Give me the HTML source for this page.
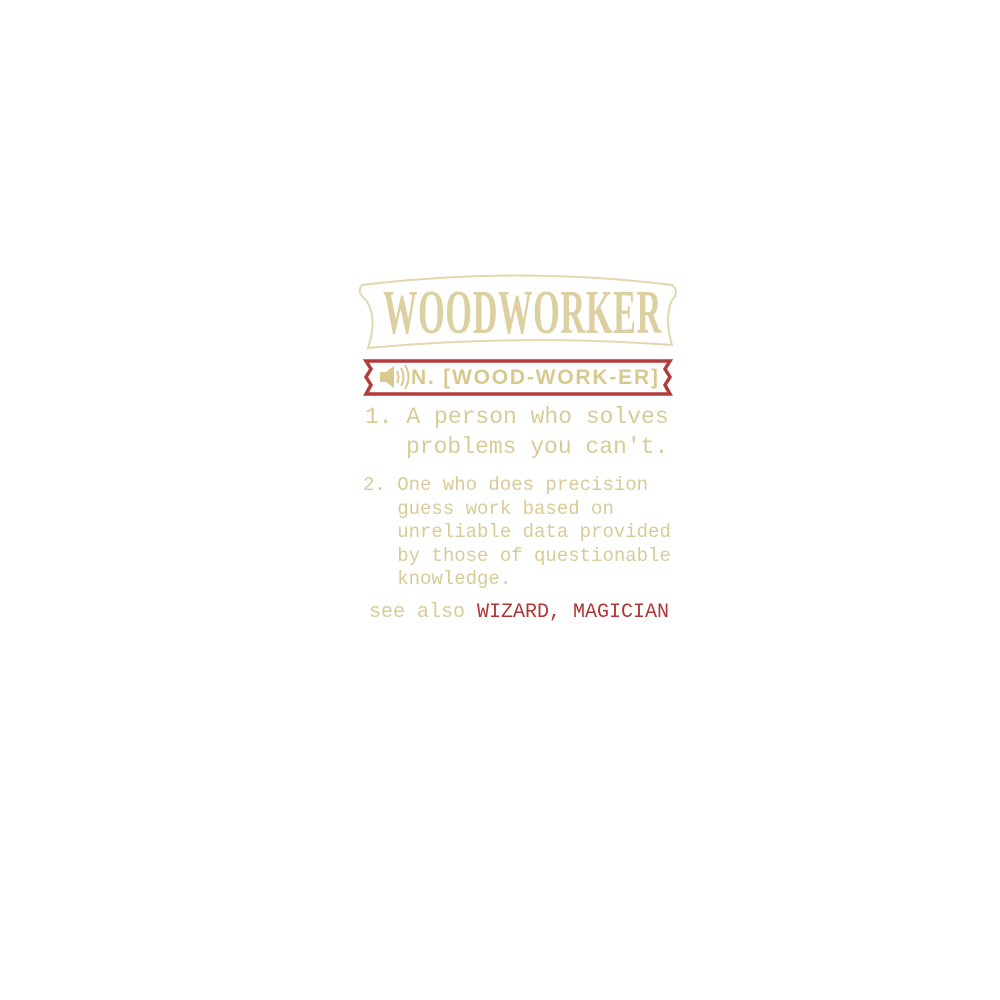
<!DOCTYPE html>
<html><head><style>
body{margin:0;width:1000px;height:1000px;background:#fff;position:relative;overflow:hidden}
.t{position:absolute;white-space:pre;font-family:"Liberation Mono",monospace;color:#d9cb96;line-height:1}
</style></head><body>
<svg width="1000" height="1000" style="position:absolute;left:0;top:0">
<path d="M362,285 Q520,266 672,285 Q680,292 672,300 Q664,318 672,345 Q520,334 368,348 Q378,318 366,300 Q356,292 362,285Z" fill="none" stroke="#e3d7ab" stroke-width="2"/>
<path d="M366,361 L670,361 L665,369 L670,377 L665,385 L670,394 L366,394 L371,385 L366,377 L371,369 Z" fill="#fff" stroke="#b23b3b" stroke-width="3.5"/>
<path d="M380,372 h6 l8,-6 v22 l-8,-6 h-6z" fill="#d8c98f"/>
<path d="M397,371 q3,6 0,12 M401,368 q5,9 0,18 M405,365 q7,12 0,24" stroke="#d8c98f" stroke-width="2" fill="none"/>
</svg>
<div class="t" style="left:383px;top:282px;font-family:'Liberation Serif',serif;font-weight:bold;font-size:62px;color:#ddd0a0;transform:scaleX(0.555);transform-origin:0 0;letter-spacing:1px">WOODWORKER</div>
<div class="t" style="left:411px;top:367px;font-family:'Liberation Sans',sans-serif;font-weight:bold;font-size:21px;color:#d8c98f;letter-spacing:1.8px">N. [WOOD-WORK-ER]</div>
<div class="t" style="left:365px;top:406px;font-size:23px">1. A person who solves</div>
<div class="t" style="left:406px;top:436px;font-size:23px">problems you can't.</div>
<div class="t" style="left:363px;top:474px;font-size:19px;line-height:23.5px">2. One who does precision
   guess work based on
   unreliable data provided
   by those of questionable
   knowledge.</div>
<div class="t" style="left:369px;top:603px;font-size:20px">see also <span style="color:#b03535">WIZARD, MAGICIAN</span></div>
</body></html>
